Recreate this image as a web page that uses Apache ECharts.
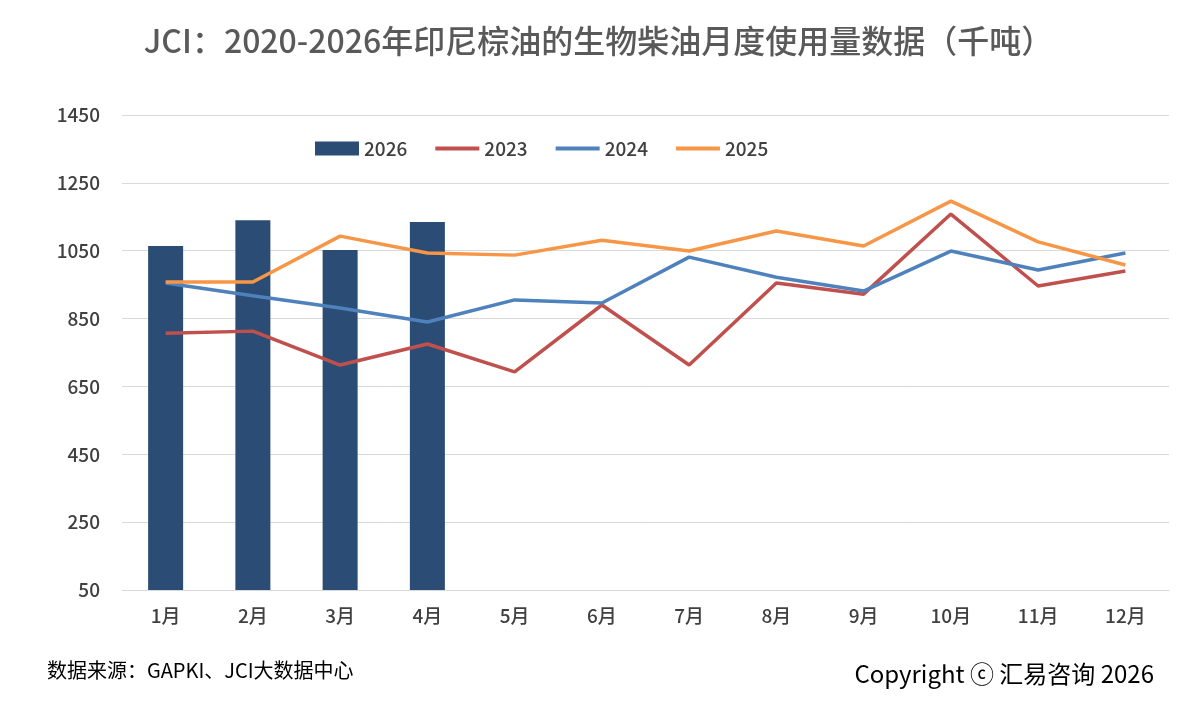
<!DOCTYPE html>
<html><head><meta charset="utf-8">
<script src="https://cdn.jsdelivr.net/npm/echarts@6/dist/echarts.min.js"></script>
<style>html,body{margin:0;background:#fff}#c{width:1197px;height:703px}</style>
</head><body><div id="c"></div>
<script>
const months = ['1月','2月','3月','4月','5月','6月','7月','8月','9月','10月','11月','12月'];
const y2026 = [1064, 1140, 1052, 1135];
const y2023 = [807, 813, 713, 775, 693, 890, 713, 955, 922, 1158, 946, 990];
const y2024 = [955, 917, 881, 840, 905, 896, 1031, 972, 931, 1049, 993, 1043];
const y2025 = [958, 958, 1093, 1043, 1037, 1081, 1049, 1108, 1064, 1196, 1076, 1008];
const yMin = 50, yMax = 1450, yStep = 200;

const font = '"Noto Sans CJK SC", "Noto Sans", sans-serif';
const chart = echarts.init(document.getElementById('c'));
const line = (name, data, color) => ({
  name, type: 'line', data, symbol: 'none',
  lineStyle: {color, width: 3.5}, itemStyle: {color}
});
const lineIcon = 'path://M0,0 L44,0 L44,4 L0,4 Z';
chart.setOption({
  textStyle: {fontFamily: font},
  title: {
    text: 'JCI：2020-2026年印尼棕油的生物柴油月度使用量数据（千吨）',
    left: 'center', top: 20,
    textStyle: {fontSize: 32, fontWeight: 500, color: '#595959', fontFamily: font}
  },
  legend: {
    top: 134, left: 310, itemGap: 28, itemWidth: 44, itemHeight: 14,
    textStyle: {fontSize: 19, color: '#404040', fontWeight: 500},
    data: [
      {name: '2026', icon: 'rect'},
      {name: '2023', icon: lineIcon, itemStyle: {color: '#C0504D'}},
      {name: '2024', icon: lineIcon, itemStyle: {color: '#4F81BD'}},
      {name: '2025', icon: lineIcon, itemStyle: {color: '#F79646'}}
    ]
  },
  grid: {left: 122, right: 28, top: 115, bottom: 113},
  xAxis: {
    type: 'category', data: months,
    axisLine: {lineStyle: {color: '#d9d9d9'}}, axisTick: {show: false},
    axisLabel: {fontSize: 19, color: '#404040', margin: 16, fontWeight: 500}
  },
  yAxis: [
    {type: 'value', min: yMin, max: yMax, show: false, splitLine: {show: false}},
    {type: 'value', position: 'left', min: 0, max: yMax - yMin, interval: yStep,
     axisLine: {show: false}, axisTick: {show: false},
     axisLabel: {fontSize: 19, color: '#404040', margin: 22, fontWeight: 500, formatter: v => v + yMin},
     splitLine: {lineStyle: {color: '#d9d9d9', width: 1}}}
  ],
  series: [
    {name: '2026', type: 'bar', data: y2026, barWidth: 35, itemStyle: {color: '#2B4C74'}},
    line('2023', y2023, '#C0504D'),
    line('2024', y2024, '#4F81BD'),
    line('2025', y2025, '#F79646')
  ],
  graphic: [
    {type: 'text', left: 47, top: 660, style: {text: '数据来源：GAPKI、JCI大数据中心', fontSize: 20, fill: '#000', fontFamily: font}},
    {type: 'text', right: 43, top: 662, style: {text: 'Copyright ⓒ 汇易咨询 2026', fontSize: 24, fill: '#000', fontFamily: font}}
  ]
});
</script></body></html>
